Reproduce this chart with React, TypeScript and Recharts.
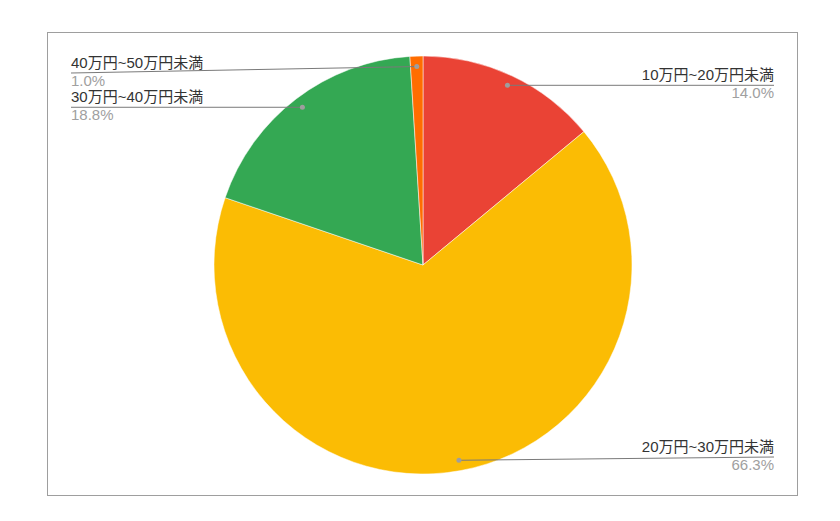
import React from 'react';
import { PieChart, Pie, Cell } from 'recharts';

const categories = ['10万円~20万円未満', '20万円~30万円未満', '30万円~40万円未満', '40万円~50万円未満'];
const shares = [14.0, 66.3, 18.8, 1.0];
const colors = ['#EA4335', '#FBBC04', '#34A853', '#FF6D01'];

const data = categories.map((name, i) => ({ name, value: shares[i] }));

const W = 840;
const H = 521;
const BOX = { left: 47, top: 32, right: 798, bottom: 496 };
const CX = 423;
const CY = 265;
const R = 209;
const RAD = Math.PI / 180;
const FONT = '"Liberation Sans", Arial, "Noto Sans CJK JP", sans-serif';

const renderLabel = (props: any) => {
  const { cx, cy, midAngle, outerRadius, index, value, name } = props;
  const r = outerRadius * 0.95;
  const dx = cx + r * Math.cos(-midAngle * RAD);
  const dy = cy + r * Math.sin(-midAngle * RAD);
  const left = dx < cx;
  const ex = left ? BOX.left + 24 : BOX.right - 24;
  const ly = Math.min(Math.max(dy, BOX.top + 41), BOX.bottom - 39);
  const anchor = left ? 'start' : 'end';
  return (
    <g key={`lbl-${index}`}>
      <line x1={dx} y1={dy} x2={ex} y2={ly} stroke="#7a7a7a" strokeWidth={1} />
      <circle cx={dx} cy={dy} r={2.5} fill="#9e9e9e" />
      <text x={ex} y={ly - 5} textAnchor={anchor} fill="#333" fontSize={15} fontFamily={FONT}>
        {name}
      </text>
      <text x={ex} y={ly + 12.5} textAnchor={anchor} fill="#a0a0a0" fontSize={15} fontFamily={FONT}>
        {Number(value).toFixed(1)}%
      </text>
    </g>
  );
};

export default function App() {
  return (
    <div style={{ position: 'fixed', left: 0, top: 0, width: W, height: H, background: '#fff' }}>
      <div
        style={{
          position: 'absolute',
          left: BOX.left,
          top: BOX.top,
          width: BOX.right - BOX.left,
          height: BOX.bottom - BOX.top,
          border: '1px solid #9e9e9e',
          boxSizing: 'border-box',
        }}
      />
      <div style={{ position: 'absolute', left: 0, top: 0 }}>
        <PieChart width={W} height={H} margin={{ top: 0, right: 0, bottom: 0, left: 0 }}>
          <Pie
            data={data}
            dataKey="value"
            nameKey="name"
            cx={CX}
            cy={CY}
            outerRadius={R}
            startAngle={90}
            endAngle={-270}
            stroke="#ffffff"
            strokeWidth={0.5}
            isAnimationActive={false}
            labelLine={false}
            label={renderLabel}
          >
            {data.map((d, i) => (
              <Cell key={d.name} fill={colors[i]} />
            ))}
          </Pie>
        </PieChart>
      </div>
    </div>
  );
}
